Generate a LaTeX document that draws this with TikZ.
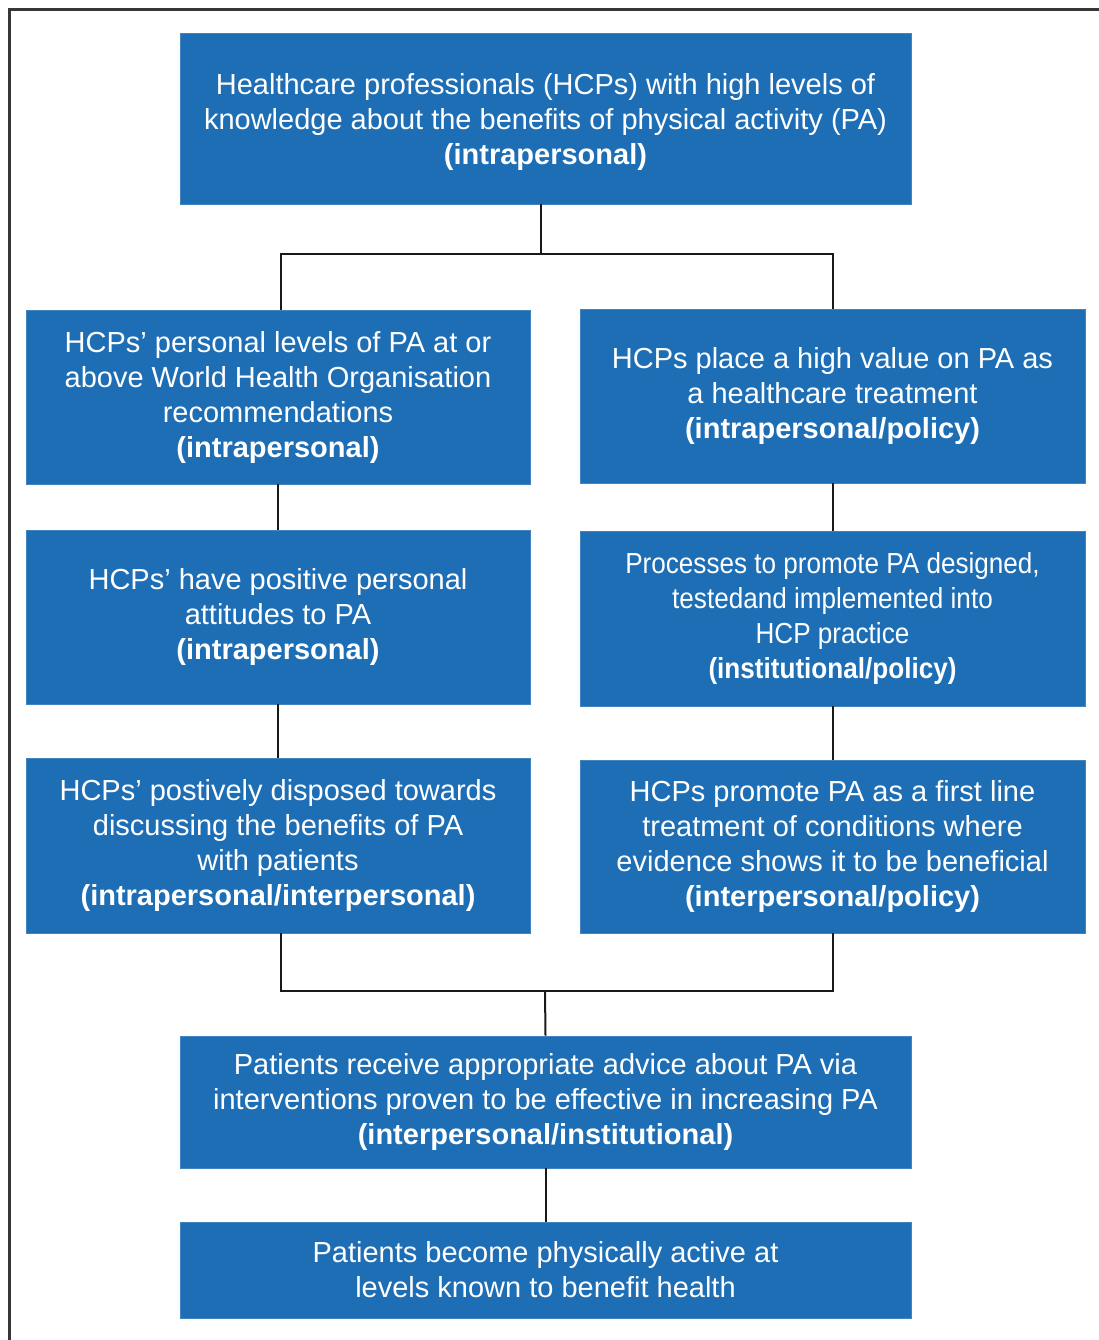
\documentclass[tikz,border=0pt]{standalone}
\usepackage{fontspec}
\setmainfont{Liberation Sans}
\usepackage{graphicx}
\definecolor{boxblue}{RGB}{30,110,181}
\definecolor{framegray}{RGB}{55,55,55}
\begin{document}
\begin{tikzpicture}[x=1pt,y=-1pt,
  bluebox/.style={rectangle, fill=boxblue, draw=boxblue!85!white, line width=0.8pt, text=white, align=center, inner sep=0pt, font={\fontsize{29}{35}\selectfont}},
  link/.style={draw=black!90, line width=2pt}]
\useasboundingbox (0,0) rectangle (1099,1340);
\fill[white] (0,0) rectangle (1099,1340);
\begin{scope}
\clip (0,0) rectangle (1099,1340);
\draw[framegray, line width=2.6pt] (9.5,9.5) rectangle (1120,1360);
\end{scope}

\node[bluebox, minimum width=731, minimum height=171] (top) at (545.5,118.5)
 {\rule{0pt}{28pt}Healthcare professionals (HCPs) with high levels of\\knowledge about the benefits of physical activity (PA)\\\textbf{(intrapersonal)}};
\node[bluebox, minimum width=504, minimum height=174] (L1) at (278,397)
 {HCPs’ personal levels of PA at or\\above World Health Organisation\\recommendations\\\textbf{(intrapersonal)}};
\node[bluebox, minimum width=505, minimum height=174] (R1) at (832.5,396)
 {HCPs place a high value on PA as\\a healthcare treatment\\\textbf{(intrapersonal/policy)}};
\node[bluebox, minimum width=504, minimum height=174] (L2) at (278,617)
 {HCPs’ have positive personal\\attitudes to PA\\\textbf{(intrapersonal)}};
\node[bluebox, minimum width=505, minimum height=175] (R2) at (832.5,618.5)
 {\scalebox{0.9}[1]{\begin{tabular}{@{}c@{}}Processes to promote PA designed,\\testedand implemented into\\HCP practice\\\textbf{(institutional/policy)}\end{tabular}}};
\node[bluebox, minimum width=504, minimum height=175] (L3) at (278,845.5)
 {HCPs’ postively disposed towards\\discussing the benefits of PA\\with patients\\\textbf{(intrapersonal/interpersonal)}};
\node[bluebox, minimum width=505, minimum height=173] (R3) at (832.5,846.5)
 {HCPs promote PA as a first line\\treatment of conditions where\\evidence shows it to be beneficial\\\textbf{(interpersonal/policy)}};
\node[bluebox, minimum width=731, minimum height=132] (B1) at (545.5,1102)
 {Patients receive appropriate advice about PA via\\interventions proven to be effective in increasing PA\\\textbf{(interpersonal/institutional)}};
\node[bluebox, minimum width=731, minimum height=96] (B2) at (545.5,1270)
 {Patients become physically active at\\levels known to benefit health};

\coordinate (j1) at (540.5,254);
\coordinate (j2) at (545,991);
\draw[link] ([xshift=-5pt]top.south) -- (j1);
\draw[link] ([xshift=3pt]L1.north) -- ([xshift=3pt]L1.north |- j1) -- (R1.north |- j1) -- (R1.north);
\draw[link] (L1.south) -- (L2.north);
\draw[link] (L2.south) -- (L3.north);
\draw[link] (R1.south) -- (R2.north);
\draw[link] (R2.south) -- (R3.north);
\draw[link] ([xshift=3pt]L3.south) -- ([xshift=3pt]L3.south |- j2) -- (R3.south |- j2) -- (R3.south);
\draw[link] (j2) -- (B1.north);
\draw[link] (B1.south) -- (B2.north);
\end{tikzpicture}
\end{document}
